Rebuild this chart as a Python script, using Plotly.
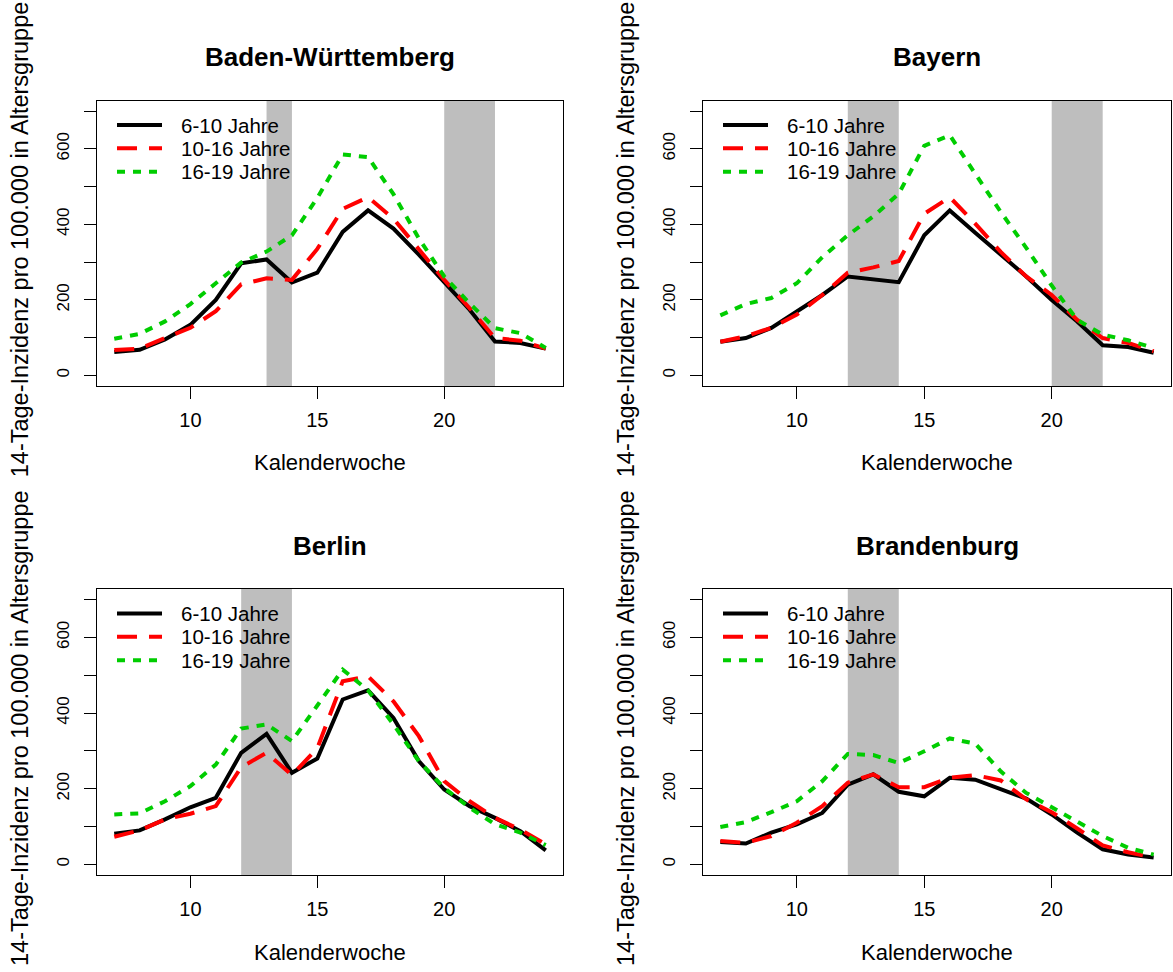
import plotly.graph_objects as go

# Kalenderwochen 7 bis 24
weeks = list(range(7, 25))

age_groups = ["6-10 Jahre", "10-16 Jahre", "16-19 Jahre"]
states = ["Baden-Württemberg", "Bayern", "Berlin", "Brandenburg"]

# 14-Tage-Inzidenz pro 100.000 je Altersgruppe
bw_6_10 = [62, 68, 95, 134, 200, 297, 307, 246, 272, 380, 437, 389, 320, 248, 174, 90, 86, 71]
bw_10_16 = [67, 71, 99, 126, 170, 241, 257, 253, 335, 441, 472, 415, 334, 253, 178, 99, 92, 71]
bw_16_19 = [97, 110, 143, 189, 244, 299, 328, 371, 470, 585, 578, 480, 363, 262, 191, 125, 112, 73]

by_6_10 = [89, 99, 126, 169, 213, 262, 255, 247, 371, 437, 378, 320, 262, 200, 143, 80, 75, 60]
by_10_16 = [89, 104, 126, 161, 213, 272, 286, 303, 428, 472, 402, 327, 262, 213, 147, 99, 86, 64]
by_16_19 = [159, 189, 205, 244, 313, 371, 421, 481, 608, 636, 534, 433, 338, 238, 147, 108, 93, 73]

be_6_10 = [81, 90, 119, 151, 176, 295, 345, 242, 280, 436, 460, 387, 273, 198, 154, 123, 88, 37]
be_10_16 = [73, 90, 119, 134, 154, 257, 295, 236, 307, 484, 497, 431, 339, 220, 167, 123, 92, 53]
be_16_19 = [132, 135, 167, 207, 264, 359, 370, 326, 420, 515, 460, 370, 273, 202, 150, 106, 84, 51]

bb_6_10 = [59, 55, 84, 106, 136, 211, 238, 192, 180, 229, 224, 198, 174, 132, 84, 40, 26, 18]
bb_10_16 = [62, 57, 75, 110, 154, 216, 238, 204, 204, 229, 236, 222, 172, 138, 95, 50, 32, 18]
bb_16_19 = [99, 112, 138, 167, 220, 292, 289, 268, 299, 333, 319, 246, 189, 150, 114, 75, 44, 26]

# Schulferien (Kalenderwochen von/bis)
ferien_bw = [(13, 14), (20, 22)]
ferien_by = [(12, 14), (20, 22)]
ferien_be = [(12, 14)]
ferien_bb = [(12, 14)]

series = [
    (bw_6_10, bw_10_16, bw_16_19),
    (by_6_10, by_10_16, by_16_19),
    (be_6_10, be_10_16, be_16_19),
    (bb_6_10, bb_10_16, bb_16_19),
]
ferien = [ferien_bw, ferien_by, ferien_be, ferien_bb]

# Achsen-Ticks
x_ticks = [10, 15, 20]
y_ticks = list(range(0, 701, 100))
y_ticktext = [str(v) if v % 200 == 0 else "" for v in y_ticks]

# Linienstile je Altersgruppe
line_styles = [
    dict(color="#000000", width=4),
    dict(color="#FF0000", width=4, dash="20px,12px"),
    dict(color="#00CD00", width=4, dash="8px,8px"),
]

FONT = "Liberation Sans, Arial, sans-serif"
W, H = 1173, 972

# Panel-Geometrie in Pixeln
cols = [(97, 563), (703, 1171)]
rows = [(100.5, 386), (589, 875)]

# Legende: Zeilenabstand vom oberen Panelrand, Musterlinie und Textbeginn
legend_rows = [24.5, 47.8, 71.2]
legend_line = (20, 65)
legend_text_x = 83


def fx(p):
    return p / W


def fy(p):
    return 1 - p / H


fig = go.Figure()
annotations = []
shapes = []
layout_axes = {}

for i, state in enumerate(states):
    r, c = divmod(i, 2)
    left, right = cols[c]
    top, bottom = rows[r]
    n = "" if i == 0 else str(i + 1)
    xref, yref = "x" + n, "y" + n

    for label, values, style in zip(age_groups, series[i], line_styles):
        fig.add_trace(go.Scatter(
            x=weeks, y=values, mode="lines", name=label,
            line=style, xaxis=xref, yaxis=yref, showlegend=False,
        ))

    for start, end in ferien[i]:
        shapes.append(dict(
            type="rect", xref=xref, yref=yref + " domain",
            x0=start, x1=end, y0=0, y1=1,
            fillcolor="#BEBEBE", line=dict(width=0), layer="below",
        ))

    # Legende oben links im Panel
    for label, style, off in zip(age_groups, line_styles, legend_rows):
        ly = fy(top + off)
        shapes.append(dict(
            type="line", xref="paper", yref="paper",
            x0=fx(left + legend_line[0]), x1=fx(left + legend_line[1]),
            y0=ly, y1=ly, line=style, layer="above",
        ))
        annotations.append(dict(
            text=label, xref="paper", yref="paper",
            x=fx(left + legend_text_x), y=ly,
            xanchor="left", yanchor="middle", showarrow=False,
            borderpad=0,
            font=dict(family=FONT, size=20.5, color="#000"),
        ))

    layout_axes["xaxis" + n] = dict(
        domain=[fx(left), fx(right)], anchor=yref,
        range=[6.32, 24.68], tickvals=x_ticks,
        ticks="outside", ticklen=12, tickwidth=1.3, tickcolor="#000",
        showline=True, mirror=True, linecolor="#000", linewidth=1.3,
        showgrid=False, zeroline=False,
        tickfont=dict(family=FONT, size=20, color="#000"),
        ticklabelstandoff=4,
    )
    layout_axes["yaxis" + n] = dict(
        domain=[fy(bottom), fy(top)], anchor=xref,
        range=[-28, 728], tickvals=y_ticks, ticktext=y_ticktext,
        tickangle=-90,
        ticks="outside", ticklen=12, tickwidth=1.3, tickcolor="#000",
        showline=True, mirror=True, linecolor="#000", linewidth=1.3,
        showgrid=False, zeroline=False,
        tickfont=dict(family=FONT, size=17, color="#000"),
        ticklabelstandoff=8,
    )

    # Panel-Titel
    annotations.append(dict(
        text="<b>" + state + "</b>", xref="paper", yref="paper",
        x=fx((left + right) / 2), y=fy(top - 43.5),
        xanchor="center", yanchor="middle", showarrow=False,
        font=dict(family=FONT, size=26, color="#000"),
    ))
    # x-Achsentitel
    annotations.append(dict(
        text="Kalenderwoche", xref="paper", yref="paper",
        x=fx((left + right) / 2), y=fy(bottom + 77),
        xanchor="center", yanchor="middle", showarrow=False,
        font=dict(family=FONT, size=22, color="#000"),
    ))
    # y-Achsentitel
    annotations.append(dict(
        text="14-Tage-Inzidenz pro 100.000 in Altersgruppe",
        xref="paper", yref="paper",
        x=fx(left - 77), y=fy((top + bottom) / 2 - 4),
        xanchor="center", yanchor="middle", textangle=-90, showarrow=False,
        font=dict(family=FONT, size=23.5, color="#000"),
    ))

fig.update_layout(
    width=W, height=H,
    margin=dict(l=0, r=0, t=0, b=0),
    paper_bgcolor="white", plot_bgcolor="white",
    showlegend=False,
    shapes=shapes, annotations=annotations,
    **layout_axes,
)

fig.write_html("out.html")
